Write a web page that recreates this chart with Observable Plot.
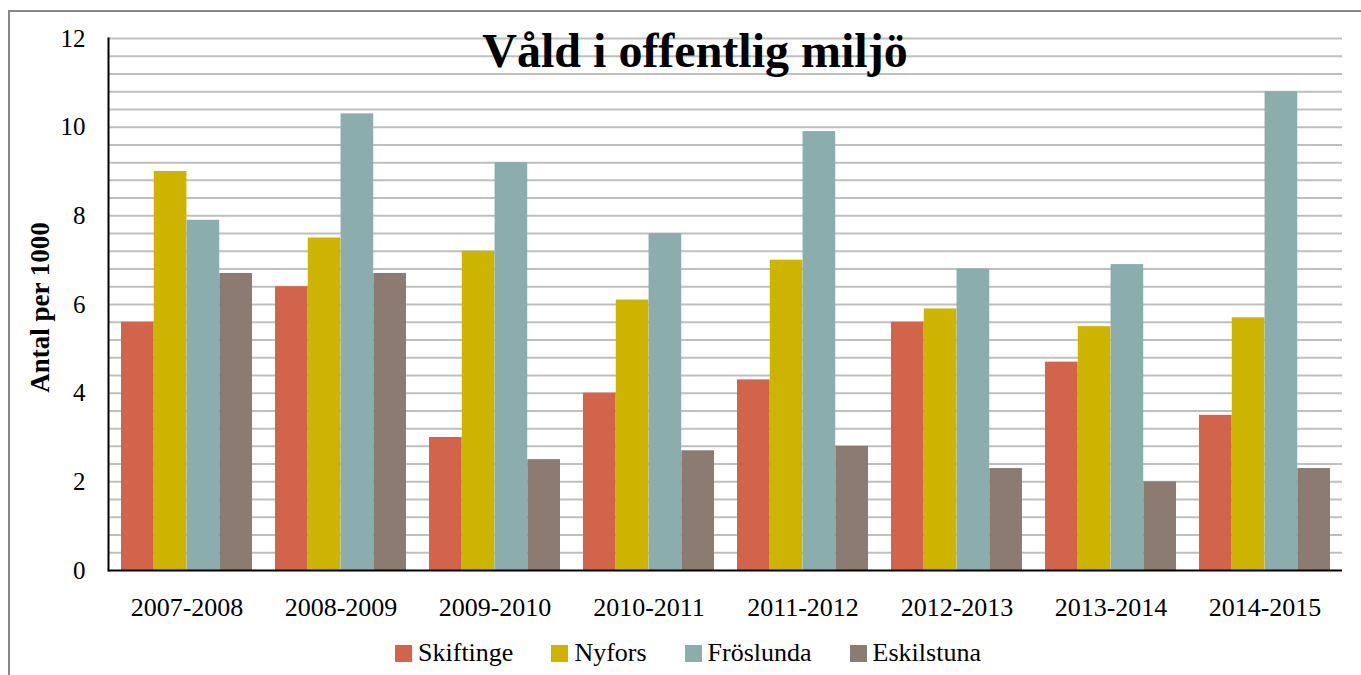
<!DOCTYPE html>
<html><head><meta charset="utf-8">
<script src="https://cdn.jsdelivr.net/npm/d3@7"></script>
<script src="https://cdn.jsdelivr.net/npm/@observablehq/plot@0.6"></script>
<style>
body{margin:0;width:1361px;height:675px;overflow:hidden;background:#fff;font-family:"Liberation Serif","Times New Roman",serif;position:relative}
#chart{position:absolute;left:0;top:0}
#border{position:absolute;left:8px;top:10px;width:3000px;height:3000px;border-left:2px solid #878787;border-top:2px solid #878787}
#title{position:absolute;left:0;width:1390px;top:27px;text-align:center;font-size:48px;line-height:48px;font-weight:bold;color:#000}
#legend{position:absolute;top:640px;left:0;width:1376px;display:flex;justify-content:center;gap:38px;font-size:26px;line-height:26px;color:#000}
.item{display:flex;align-items:center}
.sw{width:17px;height:17px;margin-right:6px}
</style></head><body>
<div id="chart"></div>
<div id="border"></div>
<div id="title">Våld i offentlig miljö</div>
<div id="legend"></div>
<script>
const periods = ["2007-2008","2008-2009","2009-2010","2010-2011","2011-2012","2012-2013","2013-2014","2014-2015"];
const seriesNames = ["Skiftinge","Nyfors","Fröslunda","Eskilstuna"];
const skiftinge = [5.6,6.4,3.0,4.0,4.3,5.6,4.7,3.5];
const nyfors = [9.0,7.5,7.2,6.1,7.0,5.9,5.5,5.7];
const froslunda = [7.9,10.3,9.2,7.6,9.9,6.8,6.9,10.8];
const eskilstuna = [6.7,6.7,2.5,2.7,2.8,2.3,2.0,2.3];
const colors = ["#D2644B","#CDB400","#8BADAD","#8B7B71"];
const yTicks = [0,2,4,6,8,10,12];
const gridLines = [0.4,0.8,1.2,1.6,2,2.4,2.8,3.2,3.6,4,4.4,4.8,5.2,5.6,6,6.4,6.8,7.2,7.6,8,8.4,8.8,9.2,9.6,10,10.4,10.8,11.2,11.6,12];
const yLabel = "Antal per 1000";

const W = 1361, H = 630, ML = 108, MR = 19, MT = 38, MB = 60;
const padInner = 0.15;
const step = (W - ML - MR) / periods.length;
const bw = step * (1 - padInner);
const allValues = [skiftinge, nyfors, froslunda, eskilstuna];

const barMarks = allValues.map((vals, i) =>
  Plot.barY(periods.map((p, j) => ({period: p, value: vals[j], series: seriesNames[i]})), {
    x: "period", y: "value", fill: colors[i],
    insetLeft: i * bw / 4, insetRight: (3 - i) * bw / 4
  })
);

const chart = Plot.plot({
  width: W, height: H,
  marginLeft: ML, marginRight: MR, marginTop: MT, marginBottom: MB,
  style: {fontFamily: '"Liberation Serif","Times New Roman",serif', background: "transparent", color: "#000"},
  x: {domain: periods, paddingInner: padInner, paddingOuter: padInner / 2, label: null},
  y: {domain: [0, 12], label: null},
  marks: [
    Plot.ruleY(gridLines, {stroke: "#bfbfbf", strokeWidth: 2}),
    ...barMarks,
    Plot.ruleY([0], {stroke: "#000", strokeWidth: 2}),
    Plot.frame({anchor: "left", stroke: "#000", strokeWidth: 2}),
    Plot.axisY({ticks: yTicks, tickSize: 0, tickPadding: 23, fontSize: 25, label: null}),
    Plot.axisX({tickSize: 0, tickPadding: 27, fontSize: 26, label: null}),
    Plot.text([yLabel], {frameAnchor: "left", textAnchor: "middle", rotate: -90, dx: -68, dy: 3, fontSize: 27, fontWeight: "bold", fill: "#000"})
  ]
});
document.getElementById("chart").appendChild(chart);

const legend = document.getElementById("legend");
seriesNames.forEach((n, i) => {
  const it = document.createElement("div"); it.className = "item";
  const sw = document.createElement("div"); sw.className = "sw"; sw.style.background = colors[i];
  const t = document.createElement("span"); t.textContent = n;
  it.appendChild(sw); it.appendChild(t); legend.appendChild(it);
});
</script>
</body></html>
